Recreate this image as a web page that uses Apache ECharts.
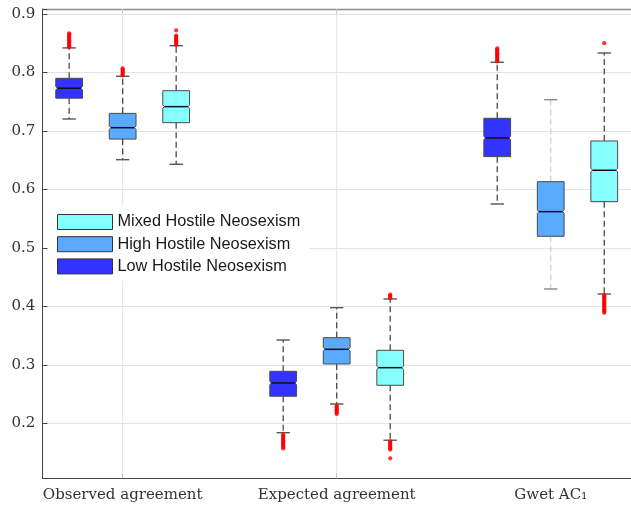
<!DOCTYPE html>
<html><head><meta charset="utf-8">
<script src="https://cdn.jsdelivr.net/npm/echarts@6/dist/echarts.min.js"></script>
<style>html,body{margin:0;padding:0;background:#fff}#c{width:631px;height:508px}</style>
</head><body><div id="c"></div>
<script>
// ---- data ----
const categories = ['Observed agreement', 'Expected agreement', 'Gwet AC\u2081'];
const seriesNames = ['Low Hostile Neosexism', 'High Hostile Neosexism', 'Mixed Hostile Neosexism'];
const legendOrder = ['Mixed Hostile Neosexism', 'High Hostile Neosexism', 'Low Hostile Neosexism'];
// per category: [lower whisker, Q1, median, Q3, upper whisker]
const lowStats = [
  [0.7204, 0.756, 0.773, 0.790, 0.842],
  [0.1839, 0.2462, 0.2689, 0.2889, 0.3424],
  [0.575, 0.656, 0.6879, 0.7216, 0.8174]
];
const highStats = [
  [0.6508, 0.686, 0.7055, 0.730, 0.7934],
  [0.233, 0.3014, 0.3265, 0.3464, 0.3977],
  [0.4297, 0.5198, 0.5619, 0.6132, 0.7534]
];
const mixedStats = [
  [0.6429, 0.7141, 0.7415, 0.7688, 0.8458],
  [0.171, 0.265, 0.2951, 0.3248, 0.4126],
  [0.4211, 0.579, 0.6327, 0.6828, 0.8333]
];
const lowOutliers = [
  [0.843, 0.845, 0.847, 0.849, 0.851, 0.853, 0.855, 0.857, 0.859, 0.861, 0.863, 0.865, 0.867],
  [0.181, 0.179, 0.177, 0.175, 0.173, 0.171, 0.169, 0.167, 0.165, 0.163, 0.161, 0.159, 0.157],
  [0.819, 0.821, 0.823, 0.825, 0.827, 0.829, 0.831, 0.833, 0.835, 0.837, 0.839, 0.841]
];
const highOutliers = [
  [0.795, 0.797, 0.799, 0.801, 0.803, 0.805, 0.807],
  [0.230, 0.228, 0.226, 0.224, 0.222, 0.220, 0.218, 0.216],
  []
];
const mixedOutliers = [
  [0.847, 0.849, 0.851, 0.853, 0.855, 0.857, 0.859, 0.861, 0.863, 0.872],
  [0.414, 0.416, 0.418, 0.420, 0.169, 0.167, 0.165, 0.163, 0.161, 0.159, 0.157, 0.155, 0.140],
  [0.850, 0.419, 0.417, 0.415, 0.413, 0.411, 0.409, 0.407, 0.405, 0.403, 0.401, 0.399, 0.397, 0.395, 0.393, 0.391, 0.389]
];
const yTickLabels = ['0.2', '0.3', '0.4', '0.5', '0.6', '0.7', '0.8', '0.9'];

// ---- styles ----
const colors = ['#3333ff', '#5aabff', '#88ffff'];
const serif = 'DejaVu Serif';
const sans = 'Liberation Sans';

// 11 slots: 3 boxes per category + one gap slot between categories
const slotCount = categories.length * 4 - 1;
const slots = Array.from({length: slotCount}, (_, i) => 's' + i);
const labelAt = {};
categories.forEach((c, i) => { labelAt[i * 4 + 1] = c; });
const gridSlots = [1, 5];

const allStats = [lowStats, highStats, mixedStats];
const allOut = [lowOutliers, highOutliers, mixedOutliers];

function boxRender(params, api) {
  const xi = api.value(0);
  const lo = api.value(1), q1 = api.value(2), md = api.value(3), q3 = api.value(4), hi = api.value(5);
  const bw = api.size([1, 0])[0];
  const x = api.coord([xi, md])[0];
  const Y = v => api.coord([xi, v])[1];
  const h = bw * 0.25, cap = bw * 0.125, nd = 1.6, nh = 1.8;
  const yl = Y(lo), y1 = Y(q1), ym = Y(md), y3 = Y(q3), yh = Y(hi);
  const faint = (params.seriesIndex === 2 && xi === 9);
  const wc = faint ? '#cfcfcf' : '#4a4a4a';
  const cc = faint ? '#8a8a8a' : '#555';
  const fill = api.visual('color');
  const wStyle = {stroke: wc, lineWidth: 1.3, lineDash: [6, 3.5]};
  const cStyle = {stroke: cc, lineWidth: 1.4};
  return {type: 'group', children: [
    {type: 'line', shape: {x1: x, y1: y3, x2: x, y2: yh}, style: wStyle},
    {type: 'line', shape: {x1: x, y1: y1, x2: x, y2: yl}, style: wStyle},
    {type: 'line', shape: {x1: x - cap, y1: yh, x2: x + cap, y2: yh}, style: cStyle},
    {type: 'line', shape: {x1: x - cap, y1: yl, x2: x + cap, y2: yl}, style: cStyle},
    {type: 'polygon', shape: {points: [
      [x - h, y3], [x + h, y3], [x + h, ym - nh], [x + h - nd, ym], [x + h, ym + nh],
      [x + h, y1], [x - h, y1], [x - h, ym + nh], [x - h + nd, ym], [x - h, ym - nh]
    ]}, style: {fill: fill, stroke: '#4a4a4a', lineWidth: 1}},
    {type: 'line', shape: {x1: x - h + nd, y1: ym, x2: x + h - nd, y2: ym}, style: {stroke: '#111', lineWidth: 1.5}}
  ]};
}

const series = [];
// vertical grid lines
series.push({
  type: 'custom', z: 1, silent: true,
  data: gridSlots.map(s => [s]),
  encode: {x: 0},
  renderItem: (params, api) => {
    const cs = params.coordSys;
    const x = api.coord([api.value(0), 0.5])[0];
    return {type: 'line', shape: {x1: x, y1: cs.y, x2: x, y2: cs.y + cs.height}, style: {stroke: '#e3e3e3', lineWidth: 1}};
  }
});
seriesNames.forEach((name, si) => {
  series.push({
    name: name, type: 'custom', z: 3,
    itemStyle: {color: colors[si], borderColor: '#333', borderWidth: 1},
    encode: {x: 0, y: [1, 2, 3, 4, 5]},
    data: allStats[si].map((s, ci) => [ci * 4 + si].concat(s)),
    renderItem: boxRender
  });
});
seriesNames.forEach((name, si) => {
  const pts = [];
  allOut[si].forEach((arr, ci) => arr.forEach(v => pts.push([ci * 4 + si, v])));
  series.push({
    name: 'out' + si, type: 'scatter', z: 4, silent: true,
    symbol: 'circle', symbolSize: 4.2,
    itemStyle: {color: '#ff0000'},
    data: pts
  });
});

const chart = echarts.init(document.getElementById('c'), null, {renderer: 'canvas'});
chart.setOption({
  animation: false,
  backgroundColor: '#fff',
  grid: {left: 42.4, top: 9, width: 596.2, height: 469.3, containLabel: false},
  legend: {
    data: legendOrder, orient: 'vertical', left: 48, top: 205,
    backgroundColor: '#fff', padding: [9, 9, 6, 9],
    itemWidth: 55, itemHeight: 15, itemGap: 6.2, icon: 'rect',
    itemStyle: {borderColor: '#333', borderWidth: 1},
    textStyle: {fontFamily: sans, fontSize: 16.3, color: '#1a1a1a', lineHeight: 15},
    selectedMode: false
  },
  xAxis: [{
    type: 'category', data: slots, position: 'bottom',
    axisLine: {show: true, lineStyle: {color: '#444', width: 1}},
    axisTick: {show: true, inside: true, length: 5, alignWithLabel: true,
      interval: (i) => gridSlots.indexOf(i) >= 0, lineStyle: {color: '#444'}},
    axisLabel: {interval: 0, margin: 9, fontFamily: serif, fontSize: 15, color: '#333',
      formatter: (v, i) => labelAt[i] || ''},
    splitLine: {show: false}
  }, {
    type: 'category', data: slots, position: 'top',
    axisLine: {show: true, lineStyle: {color: '#8c8c8c', width: 1.3}},
    axisTick: {show: true, inside: true, length: 5, alignWithLabel: true,
      interval: (i) => gridSlots.indexOf(i) >= 0, lineStyle: {color: '#666'}},
    axisLabel: {show: false},
    splitLine: {show: false}
  }],
  yAxis: {
    type: 'value', min: 0.1059, max: 0.9085, splitNumber: 8,
    axisLine: {show: true, lineStyle: {color: '#444', width: 1}},
    axisTick: {show: true, inside: true, length: 5, lineStyle: {color: '#444'}},
    axisLabel: {margin: 7, fontFamily: serif, fontSize: 15, color: '#333',
      formatter: (v) => {
        const s = (Math.round(v * 10) / 10).toFixed(1);
        return (Math.abs(v * 10 - Math.round(v * 10)) < 1e-6 && yTickLabels.indexOf(s) >= 0) ? s : '';
      }},
    splitLine: {show: true, lineStyle: {color: '#e3e3e3', width: 1}}
  },
  series: series
});
</script>
</body></html>
